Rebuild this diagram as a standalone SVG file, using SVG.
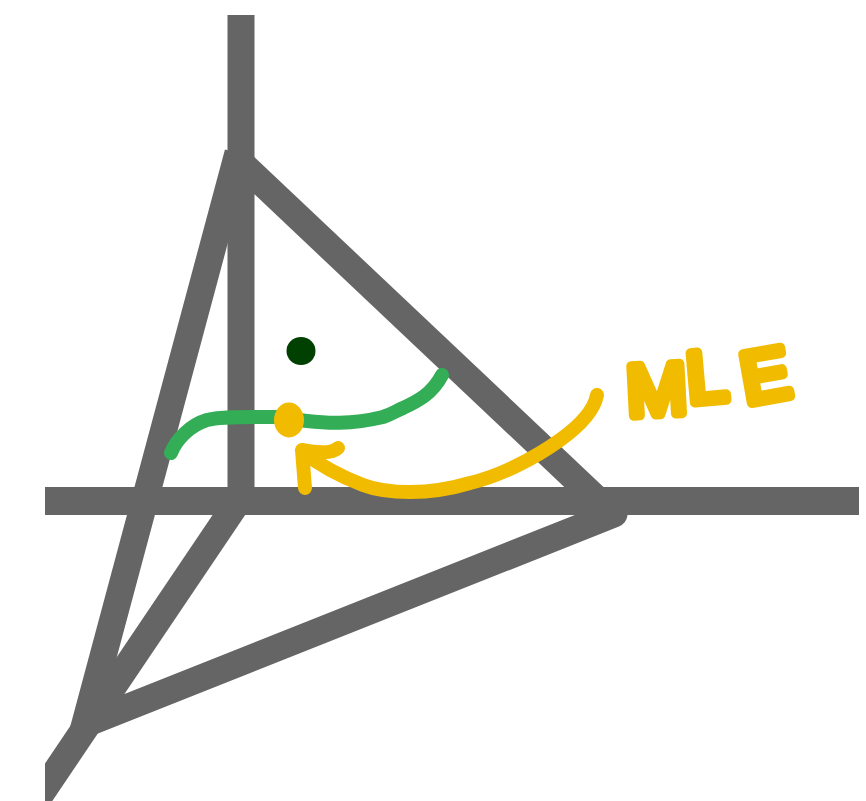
<svg xmlns="http://www.w3.org/2000/svg" width="866" height="801" viewBox="0 0 866 801">
  <style>
    .axis { stroke: #656565; stroke-width: 27; fill: none; }
    .edge { stroke: #656565; stroke-width: 27; fill: none; stroke-linecap: round; stroke-linejoin: round; }
    .sketch { fill: none; stroke-linecap: round; stroke-linejoin: round; stroke-width: 14; }
    .mle { font-family: "Liberation Sans", Arial, sans-serif; font-size: 72px; fill: #f1bc00; stroke: #f1bc00; stroke-width: 10; stroke-linejoin: round; }
  </style>
  <defs>
    <clipPath id="frame"><rect x="45" y="15" width="814" height="786"/></clipPath>
  </defs>
  <rect width="866" height="801" fill="#ffffff"/>
  <g id="axes" clip-path="url(#frame)">
    <line class="axis" x1="241" y1="15" x2="241" y2="505"/>
    <line class="axis" x1="45" y1="501" x2="859" y2="501" style="stroke-width:28"/>
    <line class="axis" x1="241" y1="497" x2="34" y2="804"/>
  </g>
  <g id="simplex" clip-path="url(#frame)">
    <path class="axis" d="M238 153 L83 731"/>
    <path class="axis" d="M241 163 L604 506"/>
    <path class="edge" d="M614 514 L93 721"/>
  </g>
  <g id="green-curve">
    <path class="sketch" stroke="#34ad57" d="M171 453 C176 440 190 425 207 420 C222 416 250 417 277 417 C290 418 298 420 307 421 C325 423 350 425 383 417 C392 414 396 411 403 408 C418 401 432 394 442 375"/>
  </g>
  <g id="true-point">
    <ellipse cx="301" cy="351" rx="14.5" ry="14" fill="#004000"/>
  </g>
  <g id="mle-point">
    <ellipse cx="289" cy="420" rx="15" ry="17.5" fill="#f1bc00"/>
  </g>
  <g id="mle-arrow">
    <path class="sketch" stroke="#f1bc00" d="M597 395 C594 412 578 427 560 440 C535 458 500 476 470 483 C450 489 430 492 410 492 C393 492 376 490 363 485 C342 477 322 467 303 452"/>
    <path class="sketch" stroke="#f1bc00" d="M338 448 C331 454 318 453 302 450 L305 488"/>
  </g>
  <g id="mle-label">
    <text class="mle" x="628 689 746" y="416 403 404" rotate="-3 -5 -10">MLE</text>
  </g>
</svg>
